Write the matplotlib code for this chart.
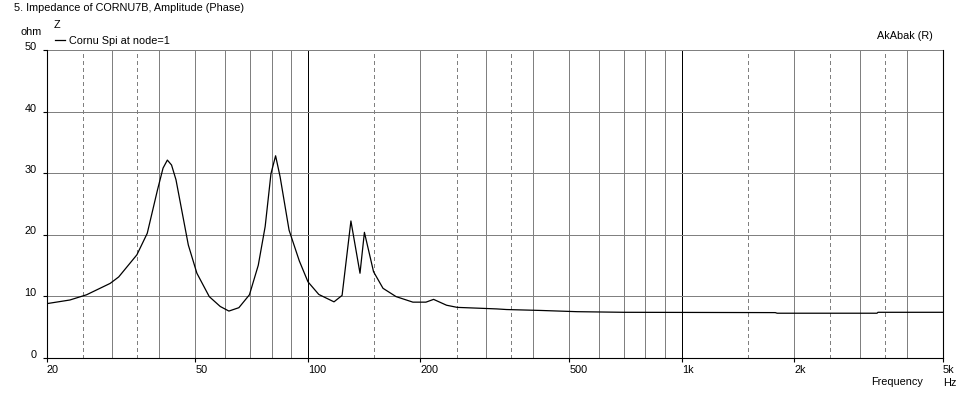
import matplotlib

matplotlib.use("Agg")
import matplotlib.pyplot as plt
from matplotlib.ticker import FixedLocator, NullLocator

plt.rcParams["font.family"] = ["Liberation Sans", "DejaVu Sans"]

# Impedance curve (Hz, ohm)
freq_hz = [
    20, 23.1, 25.6, 29.6, 31.2, 34.9, 37.2, 39.6, 41.0, 42.1, 43.2, 44.4,
    47.9, 50.5, 54.5, 58.3, 61.5, 65.4, 69.8, 73.7, 76.9, 79.7, 82.0, 84.3,
    89.1, 94.9, 100.1, 107, 117.5, 123.5, 130.4, 137.9, 141.7, 149.9, 158.9,
    172.2, 191, 207, 217, 235, 251, 291, 320, 340, 420, 525, 700, 1780,
    1800, 3330, 3350, 5000,
]
impedance_ohm = [
    8.75, 9.35, 10.2, 12.05, 13.1, 16.7, 20.2, 27.2, 30.8, 32.1, 31.3, 28.9,
    18.3, 13.7, 9.9, 8.3, 7.55, 8.1, 10.2, 15.0, 21.3, 29.9, 32.8, 29.4,
    20.7, 15.7, 12.3, 10.25, 9.05, 10.1, 22.2, 13.7, 20.35, 13.95, 11.25,
    9.9, 9.0, 9.0, 9.45, 8.5, 8.15, 8.0, 7.9, 7.8, 7.65, 7.45, 7.35, 7.3,
    7.2, 7.2, 7.35, 7.35,
]

x_ticks = [20, 50, 100, 200, 500, 1000, 2000, 5000]
x_tick_labels = ["20", "50", "100", "200", "500", "1k", "2k", "5k"]
y_ticks = [0, 10, 20, 30, 40, 50]
solid_grid = [30, 40, 50, 60, 70, 80, 90, 200, 300, 400, 500, 600, 700,
              800, 900, 2000, 3000, 4000]
dashed_grid = [25, 35, 150, 250, 350, 1500, 2500, 3500]
decade_grid = [100, 1000]

W, H = 963, 400
fig = plt.figure(figsize=(W / 100, H / 100), dpi=100)
fig.patch.set_facecolor("white")
ax = fig.add_axes([46.5 / W, 1 - 357.5 / H, (943 - 46.5) / W, (357.5 - 50) / H])

ax.set_xscale("log")
ax.set_xlim(20, 5000)
ax.set_ylim(0, 50)

grey = "#808080"
px = 0.72  # one pixel at 100 dpi
for f in solid_grid:
    ax.axvline(f, color=grey, lw=px, zorder=1, antialiased=False)
for f in dashed_grid:
    ax.axvline(f, color=grey, lw=px, ls=(0, (3, 3)), zorder=1, antialiased=False)
for f in decade_grid:
    ax.axvline(f, color="black", lw=px, zorder=1, antialiased=False)
for v in y_ticks[1:]:
    ax.axhline(v, color=grey, lw=px, zorder=1, antialiased=False)

line, = ax.plot(freq_hz, impedance_ohm, color="black", lw=0.9, zorder=3,
                label="Cornu Spi at node=1")

for side in ("left", "bottom", "right"):
    ax.spines[side].set_color("black")
    ax.spines[side].set_linewidth(0.8)
ax.spines["top"].set_visible(False)

ax.xaxis.set_major_locator(FixedLocator(x_ticks))
ax.xaxis.set_minor_locator(NullLocator())
ax.set_xticklabels(x_tick_labels)
ax.set_yticks(y_ticks)
fs = 7.8
ax.tick_params(axis="both", direction="out", length=3, width=0.8, labelsize=fs,
               color="black")
ax.tick_params(axis="x", pad=2.5)
ax.tick_params(axis="y", pad=4)
for lab in ax.get_xticklabels():
    lab.set_horizontalalignment("left")
for lab in ax.get_yticklabels():
    lab.set_verticalalignment("baseline")

fig.text(14 / W, 1 - 8 / H, "5. Impedance of CORNU7B, Amplitude (Phase)",
         ha="left", va="center", fontsize=fs)
fig.text(20 / W, 1 - 32 / H, "ohm", ha="left", va="center", fontsize=fs)
fig.text(54 / W, 1 - 25 / H, "Z", ha="left", va="center", fontsize=fs)
fig.text(933 / W, 1 - 36 / H, "AkAbak (R)", ha="right", va="center", fontsize=fs)
fig.text(923 / W, 1 - 382 / H, "Frequency", ha="right", va="center", fontsize=fs)
fig.text(943 / W, 1 - 383 / H, "Hz", ha="left", va="center", fontsize=fs)

ax.legend(handles=[line], loc="center left", bbox_to_anchor=(55 / W, 1 - 41 / H),
          bbox_transform=fig.transFigure, frameon=False, fontsize=fs,
          handlelength=0.9, handletextpad=0.4, borderpad=0, borderaxespad=0)

fig.savefig("out.png", dpi=100, facecolor="white")
